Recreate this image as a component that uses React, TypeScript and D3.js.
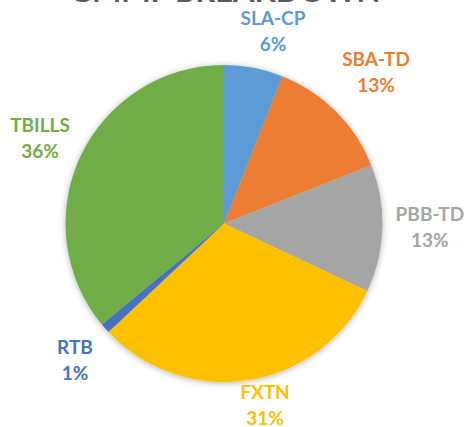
import React from "react";
import * as d3 from "d3";

const categories = ["SLA-CP", "SBA-TD", "PBB-TD", "FXTN", "RTB", "TBILLS"];
const values = [6, 13, 13, 31, 1, 36];
const colors = ["#5B9BD5", "#ED7D31", "#A5A5A5", "#FFC000", "#4472C4", "#70AD47"];
const title = "GMMF BREAKDOWN";

// label layout tweaks (px) relative to a radius-200 point at each slice's mid angle
const labelNudge: [number, number][] = [
  [11.5, 4.5],
  [10.6, -10],
  [6, -2],
  [9.7, -16],
  [1, 5],
  [-3, 0],
];

export default function App() {
  const W = 464;
  const H = 427;
  const cx = 224;
  const cy = 223.5;
  const R = 158.5;
  const labelR = 200;

  const pie = d3.pie<number>().sort(null).value((d) => d);
  const arcs = pie(values);
  const arc = d3.arc<d3.PieArcDatum<number>>().innerRadius(0).outerRadius(R);

  return (
    <svg
      width={W}
      height={H}
      style={{ position: "absolute", left: 0, top: 0, background: "#fff" }}
      fontFamily="Lato, 'Open Sans', sans-serif"
    >
      <defs>
        <filter id="shadow" x="-20%" y="-20%" width="140%" height="140%">
          <feDropShadow dx="0" dy="1" stdDeviation="3" floodColor="#000" floodOpacity="0.3" />
        </filter>
      </defs>
      <text x={225} y={1.5} textAnchor="middle" fontSize={31} fontWeight={700} fill="#595959">
        {title}
      </text>
      <g transform={`translate(${cx},${cy})`} filter="url(#shadow)">
        {arcs.map((a, i) => (
          <path key={i} d={arc(a) || ""} fill={colors[i]} />
        ))}
      </g>
      {arcs.map((a, i) => {
        const mid = (a.startAngle + a.endAngle) / 2;
        const x = cx + labelR * Math.sin(mid) + labelNudge[i][0];
        const y = cy - labelR * Math.cos(mid) + labelNudge[i][1];
        return (
          <text
            key={i}
            x={x}
            textAnchor="middle"
            fontSize={19}
            fontWeight={700}
            fill={colors[i]}
          >
            <tspan x={x} y={y - 6.5}>
              {categories[i]}
            </tspan>
            <tspan x={x} y={y + 19.5}>
              {`${values[i]}%`}
            </tspan>
          </text>
        );
      })}
    </svg>
  );
}
